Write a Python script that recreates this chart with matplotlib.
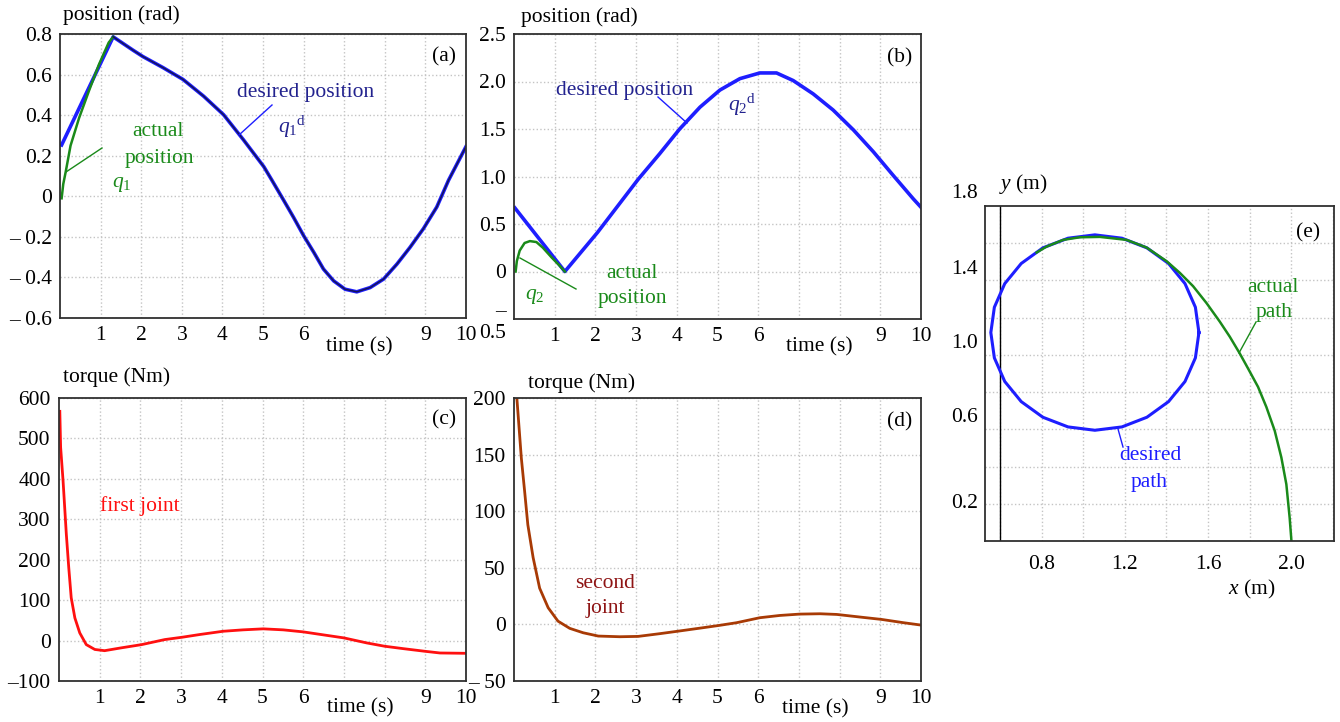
import matplotlib
matplotlib.use("Agg")
import matplotlib.pyplot as plt
from matplotlib.lines import Line2D

plt.rcParams['font.family'] = ['Liberation Serif', 'DejaVu Serif']
plt.rcParams['mathtext.fontset'] = 'custom'
plt.rcParams['mathtext.rm'] = 'Liberation Serif'
plt.rcParams['mathtext.it'] = 'Liberation Serif:italic'

# ---- data ----
# (a) joint 1 position (rad)
t_q1d = [0.04, 1.31, 1.8, 2.04, 2.54, 3.03, 3.54, 4.03, 4.52, 5.02, 5.22, 5.51,
         5.75, 6.0, 6.25, 6.49, 6.74, 7.02, 7.31, 7.64, 7.97, 8.30, 8.62, 8.95,
         9.28, 9.57, 10.0]
q1d = [0.253, 0.786, 0.72, 0.689, 0.634, 0.576, 0.493, 0.402, 0.278, 0.146, 0.079,
       -0.02, -0.103, -0.194, -0.276, -0.359, -0.417, -0.458, -0.471, -0.45, -0.408,
       -0.334, -0.252, -0.16, -0.053, 0.079, 0.245]
t_q1 = [0.04, 0.08, 0.14, 0.26, 0.47, 0.71, 0.96, 1.2, 1.31]
q1 = [-0.01, 0.06, 0.12, 0.25, 0.386, 0.518, 0.65, 0.758, 0.786]

# (b) joint 2 position (rad)
t_q2d = [0.02, 1.25, 2.05, 2.55, 3.05, 3.58, 4.07, 4.57, 5.06, 5.55, 6.04, 6.45,
         6.86, 7.35, 7.84, 8.34, 8.83, 9.32, 9.81, 10.0]
q2d = [0.67, 0.0, 0.41, 0.69, 0.97, 1.24, 1.50, 1.73, 1.91, 2.03, 2.09, 2.09,
       2.01, 1.87, 1.70, 1.49, 1.26, 1.01, 0.765, 0.676]
t_q2 = [0.04, 0.07, 0.14, 0.26, 0.39, 0.55, 0.71, 0.92, 1.1, 1.25]
q2 = [0.0, 0.11, 0.22, 0.30, 0.32, 0.31, 0.25, 0.15, 0.07, 0.0]

# (c) torque joint 1 (Nm)
t_tau1 = [0.02, 0.04, 0.1, 0.14, 0.18, 0.24, 0.3, 0.39, 0.51, 0.67, 0.88, 1.12,
          1.53, 2.03, 2.6, 3.03, 3.46, 4.03, 4.52, 5.02, 5.51, 6.0, 6.57, 7.0,
          7.56, 8.0, 8.46, 8.99, 9.36, 10.0]
tau1 = [567, 478, 395, 329, 263, 180, 106, 56, 19, -10, -22, -25, -18, -10, 2.5,
        8.3, 15, 23, 26.5, 29, 26.5, 21.5, 13, 6.6, -5.8, -14, -20, -26.5, -30.7, -31.5]

# (d) torque joint 2 (Nm)
t_tau2 = [0.03, 0.07, 0.12, 0.18, 0.26, 0.34, 0.47, 0.63, 0.84, 1.08, 1.37, 1.70,
          2.07, 2.6, 3.05, 3.58, 4.05, 4.65, 5.04, 5.47, 6.04, 6.53, 7.02, 7.52,
          7.93, 8.5, 9.03, 9.57, 10.0]
tau2 = [225, 200, 176, 147, 118, 88, 59, 32, 14.7, 2.9, -3.5, -7.4, -10.3, -10.9,
        -10.6, -8.2, -5.9, -2.9, -0.9, 1.5, 5.9, 7.9, 9.1, 9.4, 8.8, 6.5, 4.4, 1.5, -0.6]

# (e) end-effector path (m)
x_des = [1.556, 1.539, 1.489, 1.410, 1.306, 1.186, 1.056, 0.927, 0.806, 0.702,
         0.623, 0.573, 0.556, 0.573, 0.623, 0.702, 0.806, 0.927, 1.056, 1.186,
         1.306, 1.410, 1.489, 1.539, 1.556]
y_des = [1.12, 1.256, 1.383, 1.491, 1.575, 1.627, 1.645, 1.627, 1.575, 1.491,
         1.383, 1.256, 1.12, 0.984, 0.857, 0.749, 0.665, 0.613, 0.595, 0.613,
         0.665, 0.749, 0.857, 0.984, 1.12]
x_act = [2.0, 1.992, 1.976, 1.952, 1.92, 1.88, 1.84, 1.792, 1.752, 1.704, 1.656,
         1.592, 1.528, 1.464, 1.40, 1.304, 1.208, 1.08, 0.984, 0.904, 0.824, 0.776]
y_act = [0.007, 0.124, 0.305, 0.449, 0.593, 0.72, 0.828, 0.927, 1.008, 1.098, 1.179,
         1.279, 1.369, 1.441, 1.504, 1.577, 1.618, 1.634, 1.632, 1.618, 1.582, 1.55]

# ---- styling ----
W, H = 1340, 722
BLUE = '#1e1eff'
NAVY = '#22228e'
GREEN = '#1a8a1a'
RED = '#ff1010'
BROWN = '#a83a05'
DARKRED = '#8e1414'
FS = 15.5
fig = plt.figure(figsize=(W / 100, H / 100), dpi=100)


def px_axes(l, t, r, b):
    ax = fig.add_axes([l / W, 1 - b / H, (r - l) / W, (b - t) / H])
    ax.grid(True, color='#c4c4c4', linestyle=':', linewidth=1.0)
    ax.set_axisbelow(True)
    for s in ax.spines.values():
        s.set_color('#303030')
        s.set_linewidth(1.3)
    ax.tick_params(length=0, labelsize=FS, pad=6)
    return ax


def ftext(x, y, s, **kw):
    kw.setdefault('fontsize', FS)
    kw.setdefault('ha', 'center')
    kw.setdefault('va', 'center')
    fig.text(x / W, 1 - y / H, s, **kw)


def fline(x1, y1, x2, y2, color, lw=1.0):
    fig.add_artist(Line2D([x1 / W, x2 / W], [1 - y1 / H, 1 - y2 / H],
                          color=color, lw=lw, transform=fig.transFigure))


time_ticks = list(range(1, 11))
time_labels = ['1', '2', '3', '4', '5', '6', '', '', '9', '10']

# (a)
ax = px_axes(60, 34, 466, 318)
ax.plot(t_q1d, q1d, color=BLUE, lw=2.6)
ax.plot(t_q1, q1, color=GREEN, lw=1.8)
ax.plot(t_q1d[1:], q1d[1:], color='#14145a', lw=1.1)
ax.set_xlim(0, 10)
ax.set_ylim(-0.6, 0.8)
ax.set_xticks(time_ticks, time_labels)
ax.set_yticks([-0.6, -0.4, -0.2, 0, 0.2, 0.4, 0.6, 0.8],
              ['\u2013 0.6', '\u2013 0.4', '\u2013 0.2', '0', '0.2', '0.4', '0.6', '0.8'])
ftext(63, 15, 'position (rad)', ha='left')
ftext(359, 347, 'time (s)')
ftext(444, 57, '(a)')
ftext(306, 92, 'desired position', color=NAVY)
ftext(292, 127, r'$q_{1}{}^{\mathrm{d}}$', color=NAVY)
fline(272, 105, 239, 135, BLUE)
ftext(158, 132, 'actual', color=GREEN)
ftext(159, 158, 'position', color=GREEN)
ftext(122, 185, r'$q_{1}$', color=GREEN)
fline(102, 148, 66, 172, GREEN)

# (b)
ax = px_axes(514, 34, 921, 319)
ax.plot(t_q2d, q2d, color=BLUE, lw=2.6)
ax.plot(t_q2, q2, color=GREEN, lw=1.8)
ax.set_xlim(0, 10)
ax.set_ylim(-0.5, 2.5)
ax.set_xticks(time_ticks, time_labels)
ax.set_yticks([-0.5, 0, 0.5, 1.0, 1.5, 2.0, 2.5],
              ['\u2013\n0.5', '0', '0.5', '1.0', '1.5', '2.0', '2.5'])
ftext(521, 17, 'position (rad)', ha='left')
ftext(819, 347, 'time (s)')
ftext(900, 58, '(b)')
ftext(625, 90, 'desired position', color=NAVY)
ftext(742, 105, r'$q_{2}{}^{\mathrm{d}}$', color=NAVY)
fline(658, 97, 687, 123, BLUE)
ftext(632, 273, 'actual', color=GREEN)
ftext(632, 299, 'position', color=GREEN)
ftext(535, 296, r'$q_{2}$', color=GREEN)
fline(520, 258, 576, 289, GREEN)

# (c)
ax = px_axes(59, 398, 466, 681)
ax.plot(t_tau1, tau1, color=RED, lw=2.0)
ax.set_xlim(0, 10)
ax.set_ylim(-100, 600)
ax.set_xticks(time_ticks, time_labels)
ax.set_yticks([-100, 0, 100, 200, 300, 400, 500, 600],
              ['\u2013100', '0', '100', '200', '300', '400', '500', '600'])
ftext(63, 377, 'torque (Nm)', ha='left')
ftext(360, 708, 'time (s)')
ftext(444, 420, '(c)')
ftext(140, 506, 'first joint', color=RED)

# (d)
ax = px_axes(514, 398, 921, 681)
ax.plot(t_tau2, tau2, color=BROWN, lw=2.0)
ax.set_xlim(0, 10)
ax.set_ylim(-50, 200)
ax.set_xticks(time_ticks, time_labels)
ax.set_yticks([-50, 0, 50, 100, 150, 200],
              ['\u2013 50', '0', '50', '100', '150', '200'])
ftext(528, 383, 'torque (Nm)', ha='left')
ftext(815, 709, 'time (s)')
ftext(900, 422, '(d)')
ftext(605, 583, 'second', color=DARKRED)
ftext(605, 608, 'joint', color=DARKRED)

# (e)
ax = px_axes(985, 206, 1334, 541)
ax.axvline(0.6, color='black', lw=1.0)
ax.plot(x_des, y_des, color=BLUE, lw=2.2)
ax.plot(x_act, y_act, color=GREEN, lw=1.8)
ax.set_xlim(0.528, 2.205)
ax.set_ylim(0, 1.8)
ax.set_xticks([0.6, 0.8, 1.0, 1.2, 1.4, 1.6, 1.8, 2.0, 2.2],
              ['', '0.8', '', '1.2', '', '1.6', '', '2.0', ''])
ax.tick_params(axis='x', pad=10)
ax.set_yticks([0.2, 0.4, 0.6, 0.8, 1.0, 1.2, 1.4, 1.6], [''] * 8)
for lab, yy in [('1.8', 193), ('1.4', 269), ('1.0', 343), ('0.6', 418), ('0.2', 503)]:
    ftext(978, yy, lab, ha='right')
ftext(999, 184, r'$y$ (m)', ha='left')
ftext(1252, 589, r'$x$ (m)')
ftext(1308, 233, '(e)')
ftext(1273, 287, 'actual', color=GREEN)
ftext(1274, 312, 'path', color=GREEN)
fline(1256, 322, 1239, 353, GREEN)
ftext(1150, 456, 'desired', color=BLUE)
ftext(1149, 482, 'path', color=BLUE)
fline(1118, 429, 1123, 447, BLUE)

fig.savefig('out.png', dpi=100)
